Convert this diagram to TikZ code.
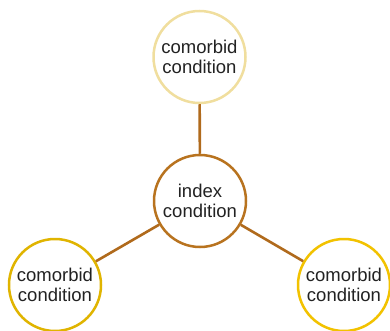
\documentclass[tikz,border=0pt]{standalone}
\usepackage{fontspec}
\setmainfont{Liberation Sans}
\definecolor{topc}{HTML}{F0DE9E}
\definecolor{midc}{HTML}{B8731F}
\definecolor{blc}{HTML}{E0B400}
\definecolor{brc}{HTML}{F2C200}
\definecolor{linkc}{HTML}{B06A1C}
\definecolor{txt}{HTML}{222222}
\tikzset{
  bubble/.style={circle, draw, line width=2.5pt, minimum size=92pt, inner sep=0pt, fill=white,
    align=center, text=txt, font=\fontsize{18.5}{20}\selectfont},
  link/.style={draw=linkc, line width=2.6pt}
}
\begin{document}
\begin{tikzpicture}[x=1pt,y=-1pt]
\useasboundingbox (0,0) rectangle (390,331);
\node[bubble, draw=topc] (top) at (199.5,57) {comorbid\\condition};
\node[bubble, draw=midc] (mid) at (200,201) {index\\condition};
\node[bubble, draw=blc] (bl) at (55,285) {comorbid\\condition};
\node[bubble, draw=brc] (br) at (344,285) {comorbid\\condition};
\draw[link] (top) -- (mid);
\draw[link] (mid) -- (bl);
\draw[link] (mid) -- (br);
\end{tikzpicture}
\end{document}
